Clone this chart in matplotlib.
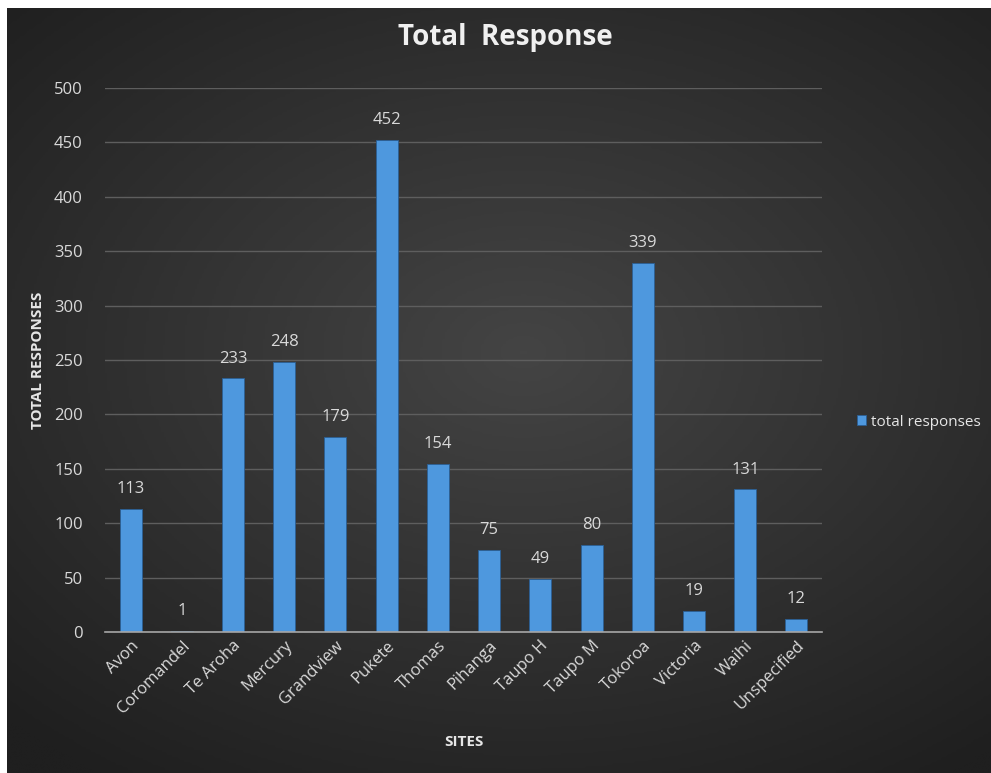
import numpy as np
import matplotlib
matplotlib.use('Agg')
import matplotlib.pyplot as plt

plt.rcParams['font.family'] = ['Open Sans', 'DejaVu Sans']

# -----------------------------------------------------------------
# DADOS
# -----------------------------------------------------------------
sites = ['Avon', 'Coromandel', 'Te Aroha', 'Mercury', 'Grandview', 'Pukete',
         'Thomas', 'Pihanga', 'Taupo H', 'Taupo M', 'Tokoroa', 'Victoria',
         'Waihi', 'Unspecified']
responses = [113, 1, 233, 248, 179, 452, 154, 75, 49, 80, 339, 19, 131, 12]
yticks = [0, 50, 100, 150, 200, 250, 300, 350, 400, 450, 500]

W, H = 991, 773
fig = plt.figure(figsize=(W / 100, H / 100), dpi=100)
fig.patch.set_facecolor('white')

# fundo escuro com gradiente radial
bg = fig.add_axes([7 / W, 0, 1 - 7 / W, 1 - 8 / H])
yy, xx = np.mgrid[-1:1:300j, -1:1:400j]
r = np.sqrt(((xx - 0.05) * 0.9) ** 2 + ((yy + 0.1) * 1.0) ** 2)
grad = np.clip(1 - r / 1.35, 0, 1)
bg.imshow(grad, cmap=matplotlib.colors.LinearSegmentedColormap.from_list(
    'bgc', ['#1f1f1f', '#444444']), aspect='auto', extent=[0, 1, 0, 1])
bg.set_axis_off()

# área do gráfico
left, right = 105 / W, 822 / W
bottom, top = 1 - 632 / H, 1 - 88 / H
ax = fig.add_axes([left, bottom, right - left, top - bottom])
ax.set_facecolor('none')

x = np.arange(len(sites))
bars = ax.bar(x, responses, width=0.43, color='#4e98de', edgecolor='#2b5f94',
              linewidth=0.6, label='total responses', zorder=3)
for xi, v in zip(x, responses):
    ax.text(xi, v + 11, str(v), ha='center', va='bottom', color='#d9d9d9',
            fontsize=12, zorder=4)

ax.set_xlim(-0.5, len(sites) - 0.5)
ax.set_ylim(0, 500)
ax.set_yticks(yticks)
ax.yaxis.grid(True, color='#5e5e5e', linewidth=1, zorder=0)
ax.set_axisbelow(True)
for s in ['top', 'right', 'left']:
    ax.spines[s].set_visible(False)
ax.spines['bottom'].set_color('#a6a6a6')
ax.spines['bottom'].set_linewidth(1.2)
ax.spines['bottom'].set_zorder(5)
ax.tick_params(axis='both', length=0, colors='#d9d9d9', labelsize=12)
ax.tick_params(axis='y', pad=16)
ax.tick_params(axis='x', pad=4)
ax.set_xticks(x)
ax.set_xticklabels(sites, rotation=45, ha='right', rotation_mode='anchor')

ax.set_ylabel('TOTAL RESPONSES', color='#e6e6e6', fontsize=11,
              fontweight='bold')
ax.yaxis.set_label_coords(-60 / 717, 0.5)
ax.set_xlabel('SITES', color='#e6e6e6', fontsize=11, fontweight='bold')
ax.xaxis.set_label_coords(0.5, -0.19)

fig.text(505 / W, 1 - 37 / H, 'Total  Response', ha='center', va='center',
         color='#f0f0f0', fontsize=20, fontweight='bold')

leg = ax.legend(loc='center left', bbox_to_anchor=(1.04, 1 - (422 - 88) / 544),
                frameon=False, fontsize=11, handlelength=0.6,
                handleheight=0.6, handletextpad=0.3, borderaxespad=0)
for t in leg.get_texts():
    t.set_color('#e6e6e6')

plt.savefig('out.png', dpi=100)
